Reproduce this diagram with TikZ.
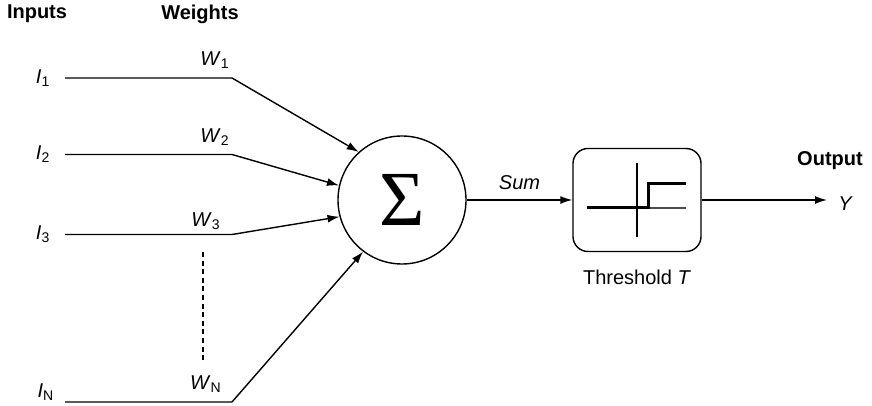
\documentclass[tikz,border=0pt]{standalone}
\usepackage{fontspec}
\setmainfont{Liberation Sans}
\newfontfamily\sigmafont{Liberation Serif}
\usepackage{tikz}
\usetikzlibrary{positioning}
\usetikzlibrary{arrows.meta}
\tikzset{edge/.style = {-{Latex[length=6pt,width=4pt]}}}

\begin{document}
\begin{tikzpicture}[x=0.5pt,y=0.5pt,line width=0.7pt,
    sum node/.style={circle,draw,minimum size=64pt,inner sep=0pt},
    thr node/.style={rectangle,draw,rounded corners=7.5pt,minimum width=64pt,minimum height=51.5pt,inner sep=0pt},
    in label/.style={inner sep=0pt},
    head/.style={font=\bfseries}]
            \useasboundingbox (0,0) rectangle (872,406);

            \node[head] (inputs) at (37,392) {Inputs};
            \node[head] (weights) at (200,392) {Weights};

            \node[sum node] (sum) at (402,206) {\sigmafont\fontsize{39}{39}\selectfont Σ};
            \node[thr node] (thr) at (637,206) {};
            \node (thrlbl) [below=5pt of thr] {Threshold \textit{T}};

            % inputs
            \coordinate (s1) at (65,328);
            \coordinate (s2) at (65,251.5);
            \coordinate (s3) at (65,171.5);
            \coordinate (sN) at (65,4);
            \coordinate (b1) at (232,328);
            \coordinate (b2) at (232,251.5);
            \coordinate (b3) at (232,171.5);
            \coordinate (bN) at (232,4);

            \node[in label] (i1) [left=7pt of s1] {\textit{I}\textsubscript{1}};
            \node[in label] (i2) [left=7pt of s2] {\textit{I}\textsubscript{2}};
            \node[in label] (i3) [left=7pt of s3] {\textit{I}\textsubscript{3}};
            \node[in label] (iN) [left=5pt of sN, yshift=5pt] {\textit{I}\textsubscript{N}};

            \node (w1) at (215,346) {\textit{W}\textsubscript{1}};
            \node (w2) at (215,269) {\textit{W}\textsubscript{2}};
            \node (w3) at (206,185) {\textit{W}\textsubscript{3}};
            \node (wN) at (206,22) {\textit{W}\textsubscript{N}};

            \draw[edge] (s1) -- (b1) -- (sum.132.5);
            \draw[edge] (s2) -- (b2) -- (sum.167.5);
            \draw[edge] (s3) -- (b3) -- (sum.195);
            \draw[edge] (sN) -- (bN) -- (sum.233.5);

            \coordinate (d1) at (203,154);
            \coordinate (d2) at (203,44);
            \draw[dash pattern=on 2.5pt off 1.8pt] (d1) -- (d2);

            \draw[edge] (sum) -- node[above=1.5pt] {\textit{Sum}} (thr);

            % step function
            \draw[line width=0.6pt] (637,243) -- (637,169);
            \draw[line width=0.6pt,black!70] (587,198) -- (686,198);
            \draw[line width=1.5pt] (587,198) -- (648,198) -- (648,222) -- (686,222);

            \coordinate (yend) at (827,206);
            \node (y) [right=2pt of yend, yshift=-2pt] {\textit{Y}};
            \node[head] (output) at (830,245) {Output};
            \draw[edge] (thr) -- (yend);
        \end{tikzpicture}
\end{document}
